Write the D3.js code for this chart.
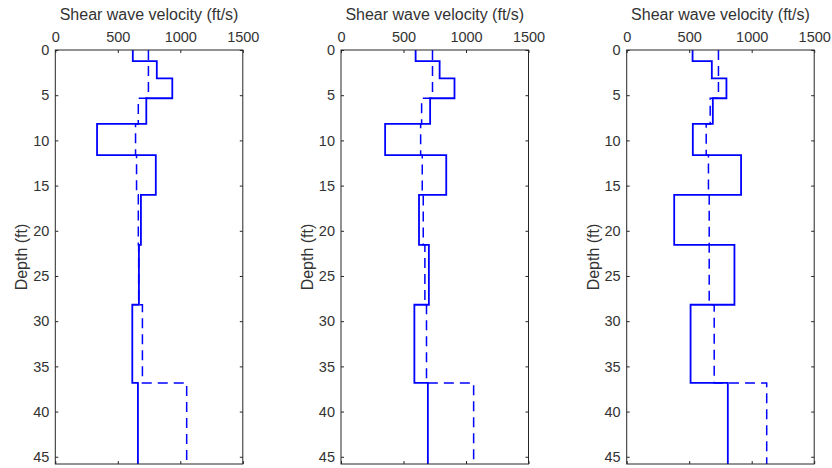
<!DOCTYPE html>
<html>
<head>
<meta charset="utf-8">
<script src="https://cdn.jsdelivr.net/npm/d3@7"></script>
<style>
  body { margin: 0; background: #fff; }
  svg text { font-family: "Liberation Sans", Arial, sans-serif; fill: #333; }
</style>
</head>
<body>
<svg id="chart"></svg>
<script>
// Layer bottoms (ft) shared by all three profiles
const layerBottoms = [1.22, 3.13, 5.34, 8.18, 11.64, 16.02, 21.55, 28.18, 36.83, 45.8];

// Measured Vs profiles (solid) and averaged profiles (dashed), ft/s per layer
const vsSolid1 = [620, 812, 936, 728, 334, 804, 685, 669, 616, 661];
const vsDash1 = [745, 745, 745, 664, 642, 650, 664, 667, 697, 1051];

const vsSolid2 = [597, 789, 908, 713, 353, 842, 624, 703, 587, 695];
const vsDash2 = [732, 732, 732, 645, 637, 650, 658, 671, 684, 1061];

const vsSolid3 = [527, 681, 798, 689, 529, 915, 380, 862, 511, 809];
const vsDash3 = [734, 734, 734, 668, 636, 654, 660, 660, 700, 1120];

const xTicks = [0, 500, 1000, 1500];
const yTicks = [0, 5, 10, 15, 20, 25, 30, 35, 40, 45];

const panels = [
  { solid: vsSolid1, dash: vsDash1, left: 55.3 },
  { solid: vsSolid2, dash: vsDash2, left: 341 },
  { solid: vsSolid3, dash: vsDash3, left: 626.7 }
];

const width = 832, height = 468;
const plotW = 187.5, plotTop = 50, plotBottom = 464;

const svg = d3.select("#chart").attr("width", width).attr("height", height);
svg.append("rect").attr("width", width).attr("height", height).attr("fill", "#fff");

const y = d3.scaleLinear().domain([0, 45.8]).range([plotTop, plotBottom]);

// turn layer values into a step outline
function steps(values) {
  const pts = [];
  let d0 = 0;
  values.forEach((v, i) => {
    pts.push([v, d0]);
    pts.push([v, layerBottoms[i]]);
    d0 = layerBottoms[i];
  });
  return pts;
}

panels.forEach((p) => {
  const x = d3.scaleLinear().domain([0, 1500]).range([p.left, p.left + plotW]);
  const g = svg.append("g");

  const line = d3.line().x((d) => x(d[0])).y((d) => y(d[1]));

  g.append("path")
    .attr("d", line(steps(p.dash)))
    .attr("fill", "none")
    .attr("stroke", "#0000ff")
    .attr("stroke-width", 1.5)
    .attr("stroke-dasharray", "10,6");

  g.append("path")
    .attr("d", line(steps(p.solid)))
    .attr("fill", "none")
    .attr("stroke", "#0000ff")
    .attr("stroke-width", 1.8);

  // axes (ticks pointing inwards)
  g.append("g").attr("transform", `translate(0,${plotTop})`)
    .call(d3.axisTop(x).tickValues(xTicks).tickSize(-3).tickPadding(8).tickFormat(d3.format("d")));
  g.append("g").attr("transform", `translate(0,${plotBottom})`)
    .call(d3.axisBottom(x).tickValues(xTicks).tickSize(-3).tickFormat(""));
  g.append("g").attr("transform", `translate(${p.left},0)`)
    .call(d3.axisLeft(y).tickValues(yTicks).tickSize(-3).tickPadding(6));
  g.append("g").attr("transform", `translate(${p.left + plotW},0)`)
    .call(d3.axisRight(y).tickValues(yTicks).tickSize(-3).tickFormat(""));

  g.selectAll(".domain").remove();
  g.selectAll(".tick line").attr("stroke", "#262626");
  g.selectAll(".tick text").style("font-size", "14.5px").attr("fill", "#333");

  g.append("rect")
    .attr("x", p.left).attr("y", plotTop)
    .attr("width", plotW).attr("height", plotBottom - plotTop)
    .attr("fill", "none").attr("stroke", "#262626").attr("stroke-width", 1);

  g.append("text")
    .attr("x", p.left + plotW / 2)
    .attr("y", 20)
    .attr("text-anchor", "middle")
    .style("font-size", "16px")
    .text("Shear wave velocity (ft/s)");

  g.append("text")
    .attr("transform", `translate(${p.left - 28},${(plotTop + plotBottom) / 2}) rotate(-90)`)
    .attr("text-anchor", "middle")
    .style("font-size", "16px")
    .text("Depth (ft)");
});
</script>
</body>
</html>
